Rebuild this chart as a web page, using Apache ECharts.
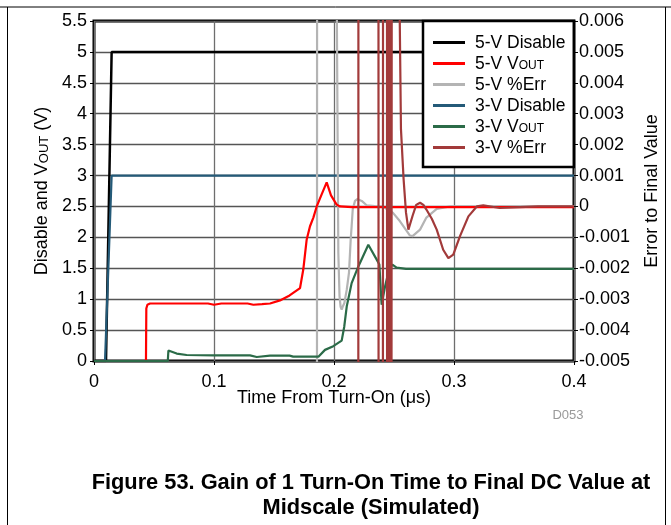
<!DOCTYPE html>
<html><head><meta charset="utf-8">
<script src="https://cdn.jsdelivr.net/npm/echarts@6/dist/echarts.min.js"></script>
<style>html,body{margin:0;padding:0;background:#fff}#c{width:671px;height:525px}</style>
</head><body><div id="c"></div>
<script>
const FONT = 'Liberation Sans, Arial, sans-serif';
const xTickLabels = ['0', '0.1', '0.2', '0.3', '0.4'];
const yLeftLabels = ['0', '0.5', '1', '1.5', '2', '2.5', '3', '3.5', '4', '4.5', '5', '5.5'];
const yRightLabels = ['-0.005', '-0.004', '-0.003', '-0.002', '-0.001', '0', '0.001', '0.002', '0.003', '0.004', '0.005', '0.006'];
const seriesNames = ['5-V Disable', '5-V VOUT', '5-V %Err', '3-V Disable', '3-V VOUT', '3-V %Err'];

// 5-V Disable
const dis5_t = [0, 0.01, 0.0147, 0.4];
const dis5_v = [0, 0, 5, 5];
// 3-V Disable
const dis3_t = [0, 0.0092, 0.0147, 0.4];
const dis3_v = [0, 0, 3, 3];
// 5-V VOUT
const out5_t = [0, 0.0433, 0.0436, 0.0445, 0.0467, 0.07, 0.095, 0.1, 0.1061, 0.12, 0.128, 0.1328, 0.14, 0.1467, 0.155, 0.163, 0.1717, 0.1744, 0.1772, 0.18, 0.1828, 0.1856, 0.1898, 0.1939, 0.1975, 0.2022, 0.205, 0.215, 0.4];
const out5_v = [0, 0, 0.85, 0.91, 0.93, 0.93, 0.93, 0.91, 0.93, 0.93, 0.93, 0.91, 0.92, 0.93, 0.98, 1.06, 1.18, 1.48, 1.96, 2.18, 2.32, 2.5, 2.7, 2.89, 2.68, 2.53, 2.5, 2.49, 2.49];
// 3-V VOUT
const out3_t = [0, 0.0615, 0.062, 0.0689, 0.0772, 0.1, 0.13, 0.1356, 0.1467, 0.163, 0.166, 0.187, 0.1925, 0.1994, 0.2064, 0.2085, 0.2106, 0.2147, 0.2203, 0.2286, 0.2356, 0.2378, 0.2397, 0.2425, 0.2455, 0.2486, 0.2522, 0.26, 0.4];
const out3_v = [0, 0, 0.17, 0.12, 0.097, 0.09, 0.09, 0.065, 0.087, 0.087, 0.07, 0.07, 0.18, 0.24, 0.33, 0.55, 0.88, 1.26, 1.53, 1.88, 1.64, 1.56, 0.91, 1.2, 1.45, 1.56, 1.51, 1.49, 1.49];
// 5-V %Err (right axis)
const err5_t = [0, 0.1855, 0.1862, 0.195, 0.2018, 0.2024, 0.2036, 0.2046, 0.2055, 0.2064, 0.2075, 0.2086, 0.2106, 0.2125, 0.2139, 0.2147, 0.2156, 0.2175, 0.2194, 0.2231, 0.2272, 0.234, 0.241, 0.2445, 0.249, 0.255, 0.2633, 0.2655, 0.2717, 0.277, 0.2856, 0.2967, 0.4];
const err5_v = [-0.3, -0.05, 0.05, 0.1, 0.03, 0.006, -0.0015, -0.0029, -0.00325, -0.00334, -0.00322, -0.00313, -0.0027, -0.00214, -0.00108, -0.00064, -0.0001, 0.00018, 0.00024, 0.00018, 0.00004, 0.00001, 0, -0.0001, -0.0002, -0.00048, -0.00094, -0.00096, -0.00075, -0.00036, -0.00008, 0, 0];
// 3-V %Err (right axis)
const err3_t = [0, 0.2200, 0.2206, 0.2368, 0.2374, 0.2405, 0.2411, 0.2439, 0.2445, 0.2453, 0.2459, 0.2467, 0.2473, 0.2481, 0.2487, 0.2535, 0.2548, 0.2558, 0.258, 0.26, 0.262, 0.2655, 0.2685, 0.2717, 0.2745, 0.277, 0.2815, 0.2856, 0.291, 0.2953, 0.2994, 0.305, 0.312, 0.319, 0.3244, 0.338, 0.355, 0.37, 0.4];
const err3_v = [-0.5, -0.05, 0.05, 0.05, -0.05, -0.05, 0.05, 0.05, -0.05, -0.05, 0.05, 0.05, -0.05, -0.05, 0.05, 0.02, 0.006, 0.0025, 0.00088, -0.0002, -0.00075, -0.0003, 0.00005, 0.00012, 0.00005, -0.0001, -0.0004, -0.00075, -0.0014, -0.00167, -0.00156, -0.00096, -0.00032, 0, 0.00004, -0.00005, -0.00002, 0, 0];

const zip = (t, v) => t.map((x, i) => [x, v[i]]);
const colors = ['#000000', '#ff0000', '#b4b4b4', '#245a78', '#2b6b48', '#a23a3a'];

function mk(i, t, v, axis, z, w) {
  return {
    name: seriesNames[i], type: 'line', data: zip(t, v), yAxisIndex: axis,
    showSymbol: false, symbol: 'none', clip: true, z: z, animation: false,
    lineStyle: { color: colors[i], width: w },
    itemStyle: { color: colors[i] }
  };
}

const rich = {
  n: { fontSize: 17.5, fontFamily: FONT, color: '#000', lineHeight: 17, verticalAlign: 'top' },
  s: { fontSize: 12, fontFamily: FONT, color: '#000', lineHeight: 12, padding: [8, 0, 0, 0], verticalAlign: 'bottom' }
};

const chart = echarts.init(document.getElementById('c'), null, { renderer: 'canvas' });
chart.setOption({
  animation: false,
  grid: { left: 94, right: 97, top: 21, bottom: 164, show: true, borderColor: '#000', borderWidth: 3, backgroundColor: 'transparent' },
  xAxis: {
    type: 'value', min: 0, max: 0.4, interval: 0.1,
    axisLine: { show: false },
    axisTick: { show: true, length: 4, lineStyle: { color: '#000', width: 1 } },
    axisLabel: { formatter: (v, i) => xTickLabels[i], fontSize: 18, fontFamily: FONT, color: '#000', margin: 12 },
    splitLine: { show: true, lineStyle: { color: '#6e6e6e', width: 1.3 } },
    name: 'Time From Turn-On (μs)', nameLocation: 'middle', nameGap: 28, nameMoveOverlap: false,
    nameTextStyle: { fontSize: 18, fontFamily: FONT, color: '#000' }
  },
  yAxis: [{
    type: 'value', min: 0, max: 5.5, interval: 0.5, position: 'left',
    axisLine: { show: false },
    axisTick: { show: true, length: 4, lineStyle: { color: '#000', width: 1 } },
    axisLabel: { formatter: (v, i) => yLeftLabels[i], fontSize: 18, fontFamily: FONT, color: '#000', margin: 7 },
    splitLine: { show: true, lineStyle: { color: '#555', width: 1.3 } },
    name: '{n|Disable and V}{s|OUT}{n| (V)}', nameLocation: 'middle', nameGap: 42, nameRotate: 90,
    nameTextStyle: { fontSize: 18, fontFamily: FONT, color: '#000', rich: {
      n: { fontSize: 18, fontFamily: FONT, color: '#000', lineHeight: 18, verticalAlign: 'top' },
      s: { fontSize: 13, fontFamily: FONT, color: '#000', lineHeight: 13, padding: [8, 0, 0, 0], verticalAlign: 'bottom' } } }
  }, {
    type: 'value', min: -0.005, max: 0.006, interval: 0.001, position: 'right',
    axisLine: { show: false },
    axisTick: { show: true, length: 4, lineStyle: { color: '#000', width: 1 } },
    axisLabel: { formatter: (v, i) => yRightLabels[i], fontSize: 18, fontFamily: FONT, color: '#000', margin: 5 },
    splitLine: { show: false },
    name: 'Error to Final Value', nameLocation: 'middle', nameGap: 69, nameRotate: 90,
    nameTextStyle: { fontSize: 18, fontFamily: FONT, color: '#000' }
  }],
  legend: {
    orient: 'vertical', left: 423, top: 21, padding: [10, 5, 10, 10],
    itemWidth: 32, itemHeight: 3, itemGap: 0, icon: 'rect',
    borderColor: '#000', borderWidth: 2.5, backgroundColor: '#fff',
    data: seriesNames,
    formatter: name => name.indexOf('VOUT') >= 0 ? '{n|' + name.replace('VOUT', 'V') + '}{s|OUT}' : '{n|' + name + '}{s| }',
    textStyle: { fontSize: 17.5, fontFamily: FONT, color: '#000', rich: rich, padding: [0, 0, 0, 5] }
  },
  graphic: [
    { type: 'line', shape: { x1: 0, y1: 7, x2: 671, y2: 7 }, style: { stroke: '#000', lineWidth: 1 } },
    { type: 'line', shape: { x1: 7.5, y1: 7, x2: 7.5, y2: 525 }, style: { stroke: '#000', lineWidth: 1 } },
    { type: 'line', shape: { x1: 665.5, y1: 7, x2: 665.5, y2: 525 }, style: { stroke: '#000', lineWidth: 1 } },
    { type: 'text', x: 568, y: 409, style: { text: 'D053', fill: '#999', font: '13px ' + FONT, textAlign: 'center' } },
    { type: 'text', x: 371, y: 470, style: { text: 'Figure 53. Gain of 1 Turn-On Time to Final DC Value at\nMidscale (Simulated)', fill: '#000', font: 'bold 21.8px ' + FONT, textAlign: 'center', lineHeight: 25 } }
  ],
  series: [
    mk(0, dis5_t, dis5_v, 0, 2, 2.5),
    mk(1, out5_t, out5_v, 0, 3, 2.2),
    mk(2, err5_t, err5_v, 1, 2.5, 2.2),
    mk(3, dis3_t, dis3_v, 0, 2, 2.2),
    mk(4, out3_t, out3_v, 0, 3, 2.2),
    mk(5, err3_t, err3_v, 1, 4, 2.2)
  ]
});
</script></body></html>
